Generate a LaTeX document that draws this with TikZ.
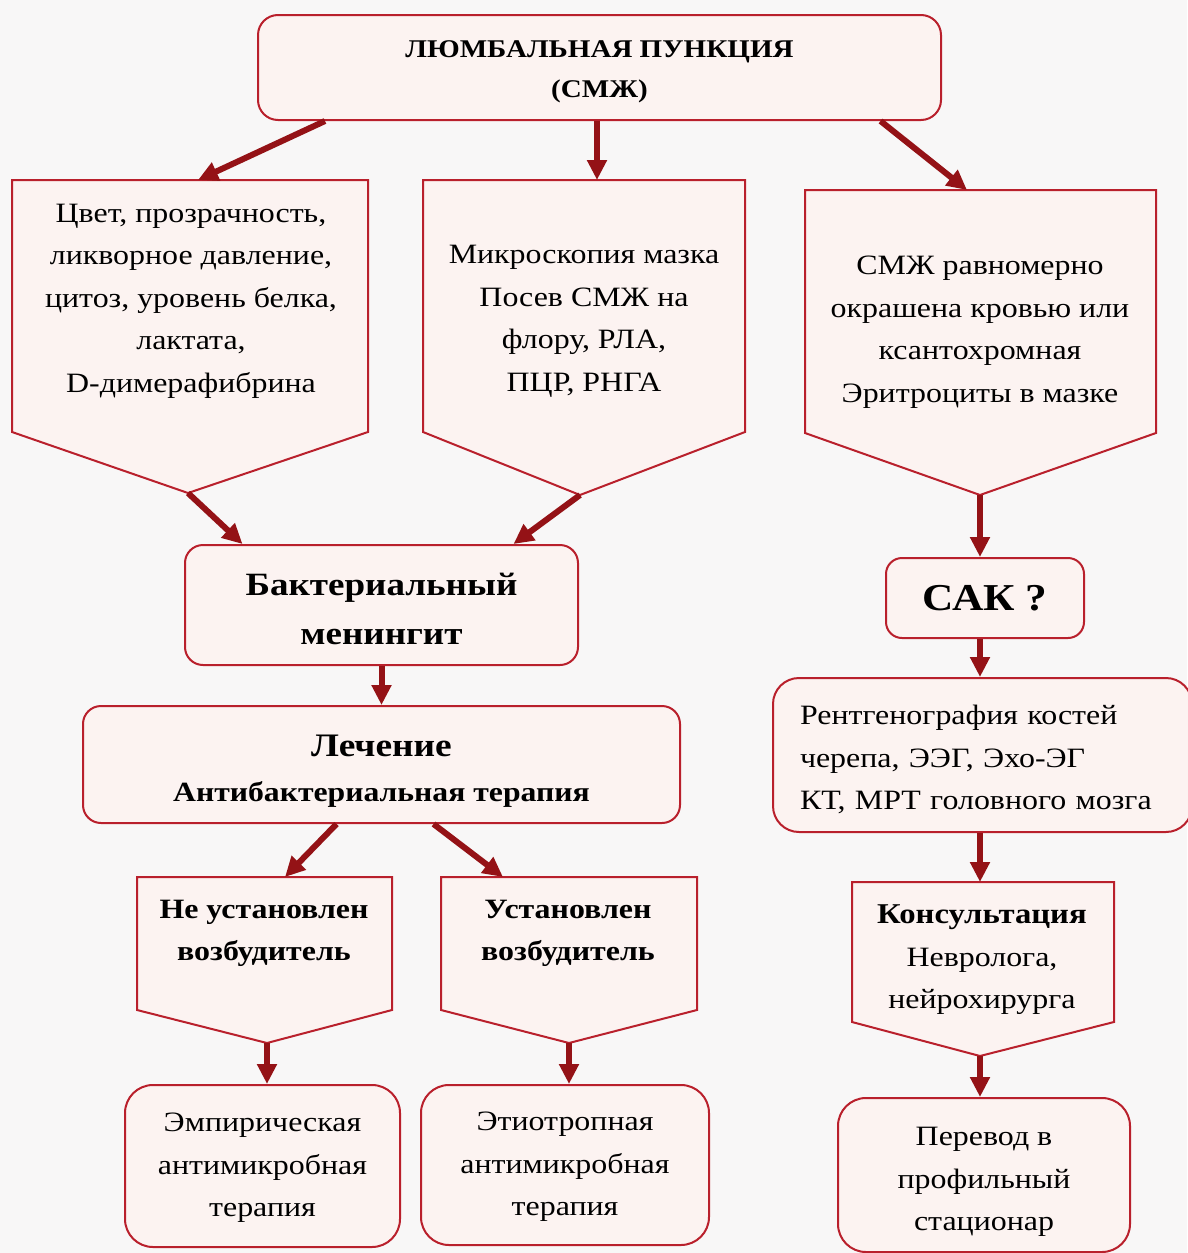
\documentclass[tikz,border=0pt]{standalone}
\usepackage{fontspec}
\setmainfont{Liberation Serif}[FakeStretch=1.14]
\usetikzlibrary{arrows.meta,calc}
\definecolor{bord}{RGB}{185,32,44}
\definecolor{arrc}{RGB}{148,18,22}
\definecolor{boxfill}{RGB}{252,243,241}
\definecolor{bgc}{RGB}{248,247,247}
\newcommand{\tstrut}[1]{\rule{0pt}{#1}}
\begin{document}
\begin{tikzpicture}[x=1pt,y=-1pt,
  rbox/.style={draw=bord, line width=2pt, fill=boxfill, rounded corners=20pt, inner sep=0pt},
  pent/.style={draw=bord, line width=2pt, fill=boxfill, line join=miter},
  arr/.style={draw=arrc, line width=6pt, -{Triangle[length=20pt,width=19pt]}},
  txt/.style={align=center, font=\fontsize{28}{42.5}\selectfont, inner sep=0pt},
  btxt/.style={align=center, font=\fontsize{28}{42}\selectfont\bfseries, inner sep=0pt}]

\fill[bgc] (0,0) rectangle (1187,1253);
\useasboundingbox (0,0) rectangle (1187,1253);

% ---------- rounded boxes ----------
\node[rbox, btxt, font=\fontsize{25.5}{40}\selectfont\bfseries, minimum width=683pt, minimum height=105pt] (top) at (599.5,67.5)
  {\tstrut{26pt}ЛЮМБАЛЬНАЯ ПУНКЦИЯ\\(СМЖ)};
\node[rbox, btxt, font=\fontsize{32.5}{49}\selectfont\bfseries, rounded corners=18pt, minimum width=393pt, minimum height=120pt] (bact) at (381.5,605)
  {\tstrut{30.4pt}Бактериальный\\менингит};
\node[rbox, btxt, font=\fontsize{27.8}{45}\selectfont\bfseries, rounded corners=18pt, minimum width=597pt, minimum height=117pt] (lech) at (381.5,764.5)
  {{\fontsize{32.8}{45}\selectfont\tstrut{34.2pt}Лечение}\\Антибактериальная терапия};
\node[rbox, txt, rounded corners=28pt, minimum width=275pt, minimum height=162pt] (emp) at (262.5,1166)
  {\tstrut{22.5pt}Эмпирическая\\антимикробная\\терапия};
\node[rbox, txt, rounded corners=28pt, minimum width=288pt, minimum height=160pt] (etio) at (565,1165)
  {\tstrut{22.5pt}Этиотропная\\антимикробная\\терапия};
\node[rbox, btxt, font=\fontsize{38}{50}\selectfont\bfseries, rounded corners=16pt, minimum width=198pt, minimum height=80pt] (sak) at (985,598)
  {САК ?};
\node[rbox, txt, align=left, text width=365pt, rounded corners=26pt, minimum width=419pt, minimum height=154pt] (rent) at (982.5,755)
  {\tstrut{29.1pt}Рентгенография костей\\черепа, ЭЭГ, Эхо-ЭГ\\КТ, МРТ головного мозга};
\node[rbox, txt, rounded corners=28pt, minimum width=292pt, minimum height=154pt] (perev) at (984,1175)
  {\tstrut{32.5pt}Перевод в\\профильный\\стационар};

% ---------- pentagons ----------
\draw[pent] (12,180) -- (368,180) -- (368,432) -- (188,493) coordinate (p1tip) -- (12,432) -- cycle;
\draw[pent] (423,180) -- (745,180) -- (745,432) -- (580,495) coordinate (p2tip) -- (423,432) -- cycle;
\draw[pent] (805,190) -- (1156,190) -- (1156,433) -- (980,495) coordinate (p3tip) -- (805,433) -- cycle;
\draw[pent] (137,877) -- (392,877) -- (392,1010) -- (267,1043) coordinate (p4tip) -- (137,1010) -- cycle;
\draw[pent] (441,877) -- (697,877) -- (697,1010) -- (569,1043) coordinate (p5tip) -- (441,1010) -- cycle;
\draw[pent] (852,882) -- (1114,882) -- (1114,1022) -- (980,1056) coordinate (p6tip) -- (852,1022) -- cycle;

\coordinate (p1in) at (198,180);
\coordinate (p2in) at (597,180);
\coordinate (p3in) at (967,190);
\coordinate (p4in) at (285,877);
\coordinate (p5in) at (503,877);
\coordinate (p6in) at (980,882);

\node[txt] (t1) at (191,301)
  {Цвет, прозрачность,\\ликворное давление,\\цитоз, уровень белка,\\лактата,\\D-димерафибрина};
\node[txt] (t2) at (584,321.5)
  {Микроскопия мазка\\Посев СМЖ на\\флору, РЛА,\\ПЦР, РНГА};
\node[txt] (t3) at (980,332)
  {СМЖ равномерно\\окрашена кровью или\\ксантохромная\\Эритроциты в мазке};
\node[btxt] (t4) at (264,933) {Не установлен\\возбудитель};
\node[btxt] (t5) at (568,933) {Установлен\\возбудитель};
\node[txt] (t6) at (982,960)
  {{\fontsize{28.7}{42.5}\selectfont\bfseries Консультация}\\Невролога,\\нейрохирурга};

% ---------- connectors ----------
\draw[arr] ([xshift=-274.5pt]top.south) -- (p1in);
\draw[arr] ([xshift=-2.5pt]top.south) -- (p2in);
\draw[arr] ([xshift=281pt]top.south) -- (p3in);
\draw[arr] (p1tip) -- ([xshift=-139pt]bact.north);
\draw[arr] (p2tip) -- ([xshift=132pt]bact.north);
\draw[arr] (bact.south) -- (lech.north);
\draw[arr] ([xshift=-45pt]lech.south) -- (p4in);
\draw[arr] ([xshift=52pt]lech.south) -- (p5in);
\draw[arr] (p4tip) -- (p4tip |- emp.north);
\draw[arr] (p5tip) -- (p5tip |- etio.north);
\draw[arr] (p3tip) -- (p3tip |- sak.north);
\draw[arr] (p3tip |- sak.south) -- (p3tip |- rent.north);
\draw[arr] (p3tip |- rent.south) -- (p6in);
\draw[arr] (p6tip) -- (p6tip |- perev.north);
\end{tikzpicture}
\end{document}
